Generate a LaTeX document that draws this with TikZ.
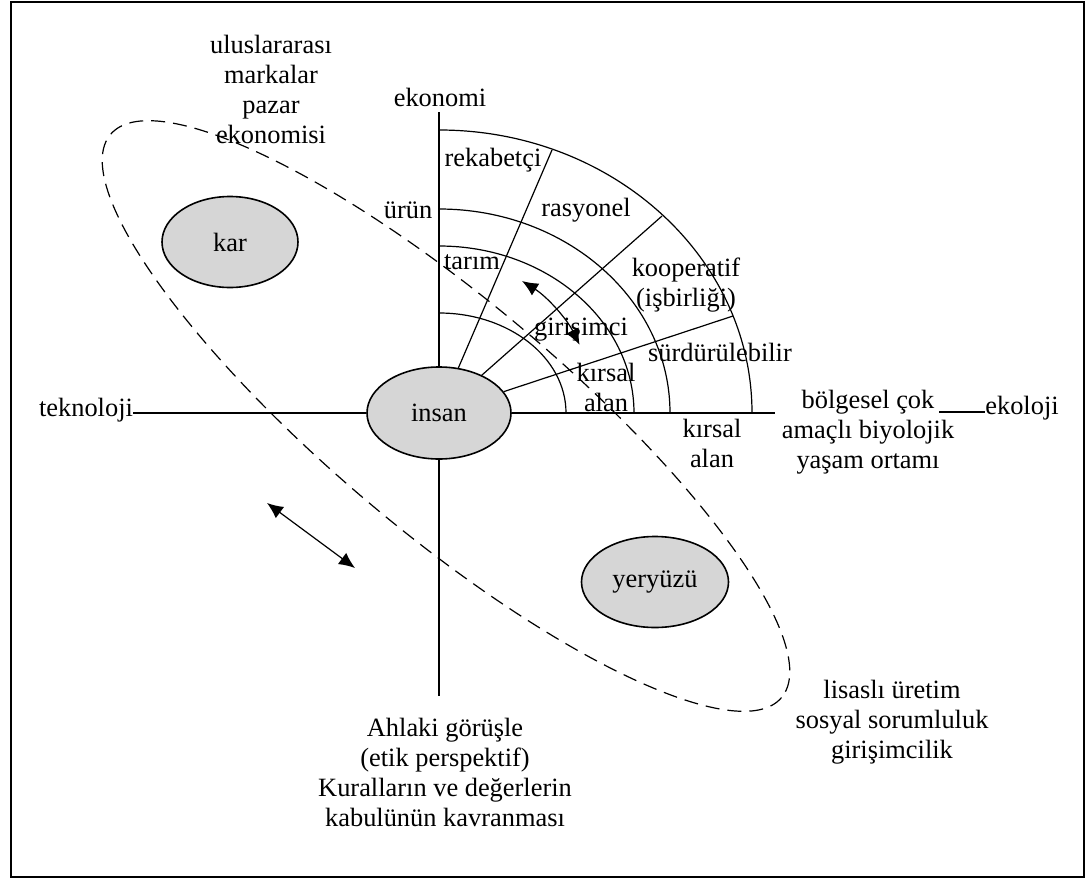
\documentclass[tikz,border=0pt]{standalone}
\usepackage{fontspec}
\setmainfont{Liberation Serif}
\usetikzlibrary{arrows.meta,shapes.geometric}
\tikzset{
  lbl/.style={font=\fontsize{13.2pt}{15pt}\selectfont, align=center, inner sep=0pt},
  blob/.style={ellipse, draw, line width=0.8pt, fill=black!16, inner sep=0pt,
    font=\fontsize{13.2pt}{15pt}\selectfont},
  ax/.style={line width=0.6pt},
  loop/.style={line width=0.6pt, dash pattern=on 7pt off 4pt},
  dbl/.style={line width=0.6pt, {Latex[length=8pt,width=7pt]}-{Latex[length=8pt,width=7pt]}}
}

\begin{document}
\begin{tikzpicture}[x=0.5pt, y=-0.5pt]
  \useasboundingbox (0,0) rectangle (1092,883);
  \draw[line width=0.8pt] (11,2) rectangle (1084,877);

  \coordinate (O) at (439,413);
  \draw[loop, shift={(446,416)}, rotate=-40] (0,0) ellipse [x radius=438, y radius=116];

  \node[blob, minimum width=72pt, minimum height=46pt] (insan) at (O) {insan};
  \node[blob, minimum width=68pt, minimum height=45.5pt] (kar) at (230,242) {kar};
  \node[blob, minimum width=73.5pt, minimum height=45.5pt] (yer) at (655,582) {yeryüzü};

  \coordinate (top) at (439,112);
  \coordinate (bot) at (439,696);
  \coordinate (right) at (775,413);
  \draw[ax] (insan) -- (top);
  \draw[ax] (insan) -- (bot);
  \draw[ax] (insan) -- (right);

  \draw[ax] (566,413) arc[start angle=0, end angle=-90, x radius=127, y radius=100];
  \draw[ax] (634,413) arc[start angle=0, end angle=-90, x radius=195, y radius=167];
  \draw[ax] (670,413) arc[start angle=0, end angle=-90, x radius=231, y radius=204];
  \draw[ax] (752,413) arc[start angle=0, end angle=-90, x radius=313, y radius=283];

  \coordinate (r1) at (552,150);
  \coordinate (r2) at (662,216);
  \coordinate (r3) at (733,316);
  \draw[ax] (insan) -- (r1);
  \draw[ax] (insan) -- (r2);
  \draw[ax] (insan) -- (r3);

  \coordinate (ta) at (522,281);
  \draw[dbl] (ta) arc[start angle=-58, end angle=-26, radius=156];
  \coordinate (la) at (267,503);
  \coordinate (lb) at (355,568);
  \draw[dbl] (la) -- (lb);

  \node[lbl] (tek) at (86,410) {teknoloji};
  \draw[ax] (tek.east |- insan) -- (insan.west);
  \node[lbl] (ekl) at (1022,408) {ekoloji};
  \coordinate (bg) at (939,412);
  \draw[ax] (bg) -- (bg -| ekl.west);

  \node[lbl] (eko) at (440,97) {ekonomi};
  \node[lbl] (ulus) at (271,89) {uluslararası\\markalar\\pazar\\ekonomisi};
  \node[lbl] (rek) at (493,160) {rekabetçi};
  \node[lbl] (urun) at (408,210) {ürün};
  \node[lbl] (ras) at (586,210) {rasyonel};
  \node[lbl] (tar) at (472,262) {tarım};
  \node[lbl] (koop) at (686,285) {kooperatif\\(işbirliği)};
  \node[lbl] (gir) at (581,330) {girişimci};
  \node[lbl] (surd) at (720,352) {sürdürülebilir};
  \node[lbl] (kir1) at (606,387) {kırsal\\alan};
  \node[lbl] (kir2) at (712,443) {kırsal\\alan};
  \node[lbl] (bolg) at (868,432) {bölgesel çok\\amaçlı biyolojik\\yaşam ortamı};
  \node[lbl] (ahl) at (445,772) {Ahlaki görüşle\\(etik perspektif)\\Kuralların ve değerlerin\\kabulünün kavranması};
  \node[lbl] (lis) at (892,722) {lisaslı üretim\\sosyal sorumluluk\\girişimcilik};
\end{tikzpicture}
\end{document}
